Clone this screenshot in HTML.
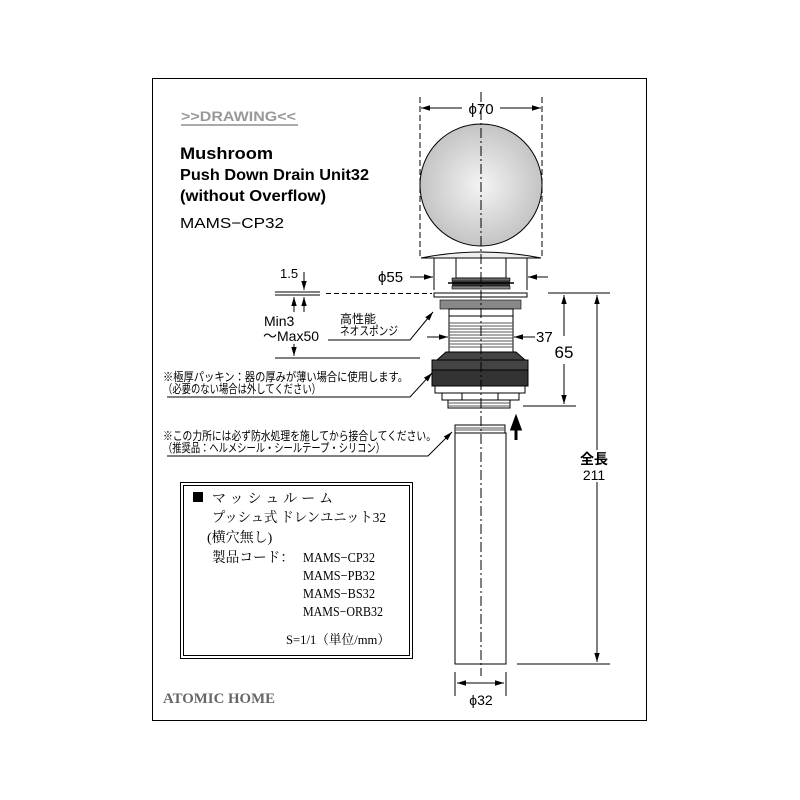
<!DOCTYPE html>
<html><head><meta charset="utf-8"><style>
html,body{margin:0;padding:0;background:#fff;}
svg{display:block}
.jp{font-family:"Liberation Sans","Noto Sans CJK JP",sans-serif;}
.sr{font-family:"Liberation Serif","Noto Serif CJK SC",serif;}
</style></head><body>
<svg width="800" height="800" viewBox="0 0 800 800" xmlns="http://www.w3.org/2000/svg">
<defs>
<radialGradient id="g" cx="50%" cy="50%" r="50%"><stop offset="0" stop-color="#f4f4f4"/><stop offset="1" stop-color="#c4c4c4"/></radialGradient>
<marker id="a" viewBox="0 0 10 10" refX="10" refY="5" markerWidth="9" markerHeight="9" orient="auto-start-reverse"><path d="M0,2 L10,5 L0,8 z" fill="#000"/></marker>
</defs>
<rect x="152.5" y="78.5" width="494" height="642" fill="none" stroke="#000" stroke-width="1"/>

<!-- heading -->
<text x="181" y="121" font-family="Liberation Sans,sans-serif" font-weight="bold" font-size="14" fill="#999" textLength="115" lengthAdjust="spacingAndGlyphs">&gt;&gt;DRAWING&lt;&lt;</text>
<line x1="181" y1="125" x2="298" y2="125" stroke="#aaa" stroke-width="2"/>
<text x="180" y="159" font-family="Liberation Sans,sans-serif" font-weight="bold" font-size="17" textLength="93" lengthAdjust="spacingAndGlyphs">Mushroom</text>
<text x="180" y="180" font-family="Liberation Sans,sans-serif" font-weight="bold" font-size="16" textLength="189" lengthAdjust="spacingAndGlyphs">Push Down Drain Unit32</text>
<text x="180" y="201" font-family="Liberation Sans,sans-serif" font-weight="bold" font-size="16" textLength="146" lengthAdjust="spacingAndGlyphs">(without Overflow)</text>
<text x="180" y="228" font-family="Liberation Sans,sans-serif" font-size="15" textLength="104" lengthAdjust="spacingAndGlyphs">MAMS−CP32</text>

<!-- ball -->
<circle cx="481" cy="185" r="61" fill="url(#g)" stroke="#000" stroke-width="1"/>
<line x1="420" y1="97" x2="420" y2="258" stroke="#000" stroke-dasharray="6,3"/>
<line x1="542" y1="97" x2="542" y2="258" stroke="#000" stroke-dasharray="6,3"/>
<line x1="421" y1="108" x2="462" y2="108" stroke="#000" marker-start="url(#a)"/>
<line x1="500" y1="108" x2="541" y2="108" stroke="#000" marker-end="url(#a)"/>
<text x="481" y="114" text-anchor="middle" font-family="Liberation Sans,sans-serif" font-size="15">ϕ70</text>

<!-- flange -->
<path d="M421,258 Q481,246 541,258 Z" fill="#eee" stroke="#000"/>
<rect x="456" y="258" width="50" height="20" fill="#fff" stroke="#000"/>
<rect x="452" y="278" width="58" height="3" fill="#666" stroke="#000" stroke-width=".6"/>
<rect x="452" y="281" width="58" height="5" fill="#333"/>
<rect x="452" y="286" width="58" height="3" fill="#888" stroke="#000" stroke-width=".6"/>
<line x1="448" y1="283" x2="514" y2="283" stroke="#000" stroke-width="1.5"/>
<line x1="434" y1="258" x2="434" y2="290" stroke="#000"/>
<line x1="527" y1="258" x2="527" y2="290" stroke="#000"/>
<line x1="410" y1="277" x2="433" y2="277" stroke="#000" marker-end="url(#a)"/>
<line x1="548" y1="277" x2="528" y2="277" stroke="#000" marker-end="url(#a)"/>
<text x="378" y="282" font-family="Liberation Sans,sans-serif" font-size="15">ϕ55</text>

<!-- washer and plate -->
<rect x="434" y="293" width="93" height="4" fill="#fff" stroke="#000"/>
<rect x="440" y="300" width="81" height="9" fill="#888" stroke="#000" stroke-width=".6"/>
<rect x="449" y="309" width="64" height="43" fill="#fff" stroke="#000"/>
<g stroke="#555" stroke-width="1">
<line x1="449" y1="323" x2="513" y2="323"/><line x1="449" y1="326" x2="513" y2="326"/>
<line x1="449" y1="329" x2="513" y2="329"/><line x1="449" y1="332" x2="513" y2="332"/>
<line x1="449" y1="335" x2="513" y2="335"/><line x1="449" y1="338" x2="513" y2="338"/>
<line x1="449" y1="341" x2="513" y2="341"/><line x1="449" y1="344" x2="513" y2="344"/>
<line x1="449" y1="347" x2="513" y2="347"/></g>
<line x1="449" y1="316" x2="513" y2="316" stroke="#000"/>
<path d="M446,352 L516,352 L525,360 L437,360 Z" fill="#444" stroke="#000"/>
<rect x="432" y="360" width="96" height="10" fill="#444" stroke="#000"/>
<rect x="432" y="370" width="96" height="16" fill="#333" stroke="#000"/>
<rect x="435" y="386" width="90" height="7" fill="#fff" stroke="#000"/>
<rect x="442" y="393" width="77" height="7" fill="#fff" stroke="#000"/>
<line x1="462" y1="393" x2="462" y2="400" stroke="#000"/><line x1="498" y1="393" x2="498" y2="400" stroke="#000"/>
<rect x="448" y="400" width="62" height="8" fill="#fff" stroke="#000"/>
<line x1="448" y1="403" x2="510" y2="403" stroke="#555"/><line x1="448" y1="406" x2="510" y2="406" stroke="#555"/>
<line x1="427" y1="337" x2="448" y2="337" stroke="#000" marker-end="url(#a)"/>
<line x1="535" y1="337" x2="514" y2="337" stroke="#000" marker-end="url(#a)"/>
<text x="536" y="342" font-family="Liberation Sans,sans-serif" font-size="15">37</text>

<path d="M516,440 L516,428 M512,429 L516,418 L520,429 Z" stroke="#000" stroke-width="3" fill="#000"/>

<rect x="455" y="425" width="50" height="8" fill="#fff" stroke="#000"/>
<line x1="455" y1="428" x2="505" y2="428" stroke="#555"/><line x1="455" y1="430" x2="505" y2="430" stroke="#555"/>
<rect x="455" y="433" width="51" height="231" fill="#fff" stroke="#000"/>
<line x1="455" y1="672" x2="455" y2="696" stroke="#000"/>
<line x1="506" y1="672" x2="506" y2="696" stroke="#000"/>
<line x1="457" y1="683" x2="504" y2="683" stroke="#000" marker-start="url(#a)" marker-end="url(#a)"/>
<text x="481" y="705" text-anchor="middle" font-family="Liberation Sans,sans-serif" font-size="14">ϕ32</text>

<line x1="481" y1="92" x2="481" y2="676" stroke="#000" stroke-dasharray="10,3,2,3"/>

<line x1="548" y1="293" x2="610" y2="293" stroke="#000"/>
<line x1="523" y1="406" x2="576" y2="406" stroke="#000"/>
<line x1="517" y1="664" x2="610" y2="664" stroke="#000"/>
<line x1="564" y1="295" x2="564" y2="336" stroke="#000" marker-start="url(#a)"/>
<line x1="564" y1="364" x2="564" y2="404" stroke="#000" marker-end="url(#a)"/>
<text x="564" y="358" text-anchor="middle" font-family="Liberation Sans,sans-serif" font-size="17">65</text>
<line x1="597" y1="295" x2="597" y2="450" stroke="#000" marker-start="url(#a)"/>
<line x1="597" y1="482" x2="597" y2="662" stroke="#000" marker-end="url(#a)"/>
<text x="594" y="464" text-anchor="middle" class="jp" font-size="14" font-weight="bold">全長</text>
<text x="594" y="480" text-anchor="middle" font-family="Liberation Sans,sans-serif" font-size="14">211</text>

<line x1="275" y1="292" x2="320" y2="292" stroke="#000"/>
<line x1="275" y1="295" x2="320" y2="295" stroke="#000"/>
<line x1="326" y1="293.5" x2="432" y2="293.5" stroke="#000" stroke-dasharray="5,3" stroke-width="1"/>
<text x="280" y="278" font-family="Liberation Sans,sans-serif" font-size="13">1.5</text>
<line x1="304" y1="272" x2="304" y2="290" stroke="#000" marker-end="url(#a)"/>
<line x1="304" y1="312" x2="304" y2="297" stroke="#000" marker-end="url(#a)"/>
<line x1="294" y1="312" x2="294" y2="297" stroke="#000" marker-end="url(#a)"/>
<text x="264" y="326" font-family="Liberation Sans,sans-serif" font-size="14">Min3</text>
<text x="263" y="341" font-family="Liberation Sans,sans-serif" font-size="14">～Max50</text>
<line x1="294" y1="344" x2="294" y2="356" stroke="#000" marker-end="url(#a)"/>
<line x1="275" y1="358" x2="420" y2="358" stroke="#000"/>

<text x="340" y="323" class="jp" font-size="12">高性能</text>
<text x="340" y="335" class="jp" font-size="12" textLength="58" lengthAdjust="spacingAndGlyphs">ネオスポンジ</text>
<polyline points="328,340 410,340 433,312" fill="none" stroke="#000" marker-end="url(#a)"/>

<text x="163" y="381" class="jp" font-size="12" textLength="245" lengthAdjust="spacingAndGlyphs">※極厚パッキン：器の厚みが薄い場合に使用します。</text>
<text x="163" y="393" class="jp" font-size="12" textLength="158" lengthAdjust="spacingAndGlyphs">（必要のない場合は外してください）</text>
<polyline points="167,397 410,397 432,373" fill="none" stroke="#000" marker-end="url(#a)"/>

<text x="163" y="440" class="jp" font-size="12" textLength="273" lengthAdjust="spacingAndGlyphs">※この力所には必ず防水処理を施してから接合してください。</text>
<text x="163" y="452" class="jp" font-size="12" textLength="222" lengthAdjust="spacingAndGlyphs">（推奨品：ヘルメシール・シールテープ・シリコン）</text>
<polyline points="167,456 428,456 452,432" fill="none" stroke="#000" marker-end="url(#a)"/>

<rect x="180.5" y="482.5" width="232" height="176" fill="none" stroke="#000" stroke-width="1"/>
<rect x="183.5" y="485.5" width="226" height="170" fill="none" stroke="#000" stroke-width="1"/>
<rect x="193" y="492" width="10" height="10" fill="#000"/>
<g class="sr" font-size="14">
<text x="212" y="503" letter-spacing="4">マッシュルーム</text>
<text x="212" y="522" textLength="174" lengthAdjust="spacingAndGlyphs">プッシュ式 ドレンユニット32</text>
<text x="207" y="542">(横穴無し)</text>
<text x="212" y="562" textLength="82" lengthAdjust="spacingAndGlyphs">製品コード：</text>
<text x="303" y="562" textLength="72" lengthAdjust="spacingAndGlyphs">MAMS−CP32</text>
<text x="303" y="580" textLength="72" lengthAdjust="spacingAndGlyphs">MAMS−PB32</text>
<text x="303" y="598" textLength="72" lengthAdjust="spacingAndGlyphs">MAMS−BS32</text>
<text x="303" y="616" textLength="80" lengthAdjust="spacingAndGlyphs">MAMS−ORB32</text>
<text x="286" y="644" font-size="13" textLength="104" lengthAdjust="spacingAndGlyphs">S=1/1（単位/mm）</text>
</g>
<text x="163" y="703" font-family="Liberation Serif,serif" font-weight="bold" font-size="15" fill="#666" textLength="112" lengthAdjust="spacingAndGlyphs">ATOMIC HOME</text>
</svg>
</body></html>
